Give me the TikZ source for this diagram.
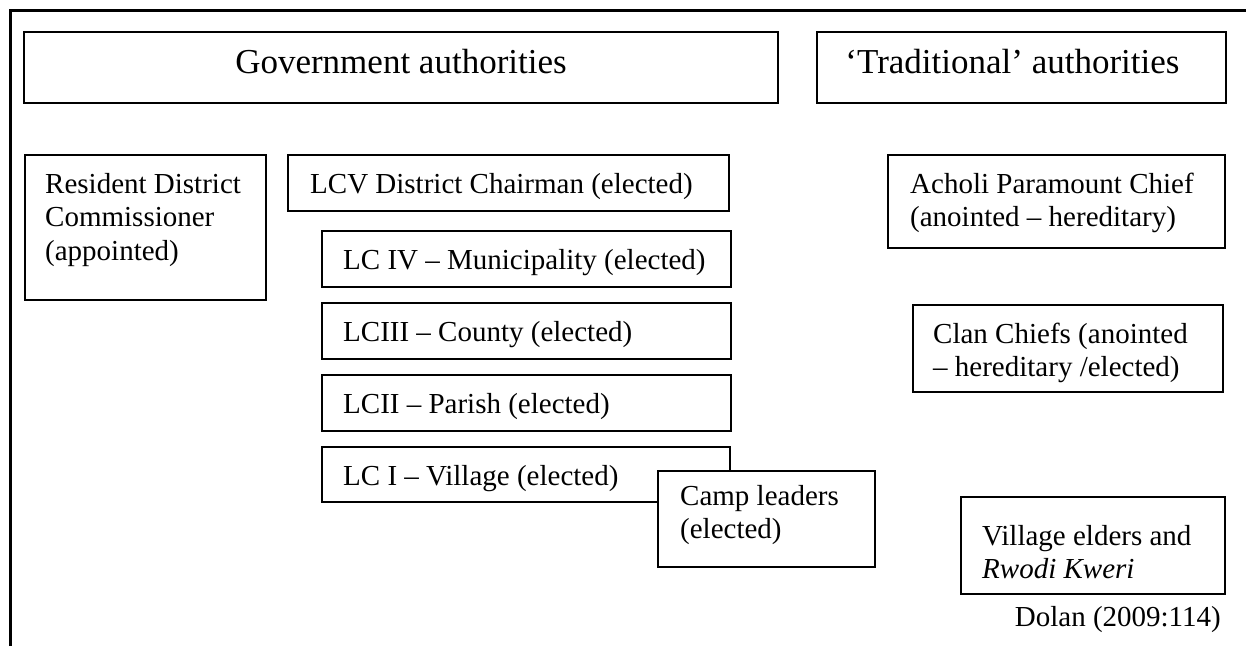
\documentclass[tikz,border=0pt]{standalone}
\usepackage{fontspec}
\setmainfont{Liberation Serif}
\usetikzlibrary{calc}
\begin{document}
\begin{tikzpicture}[x=1pt,y=-1pt,
  box/.style={draw=black, line width=1.5pt, fill=white, anchor=north west,
              inner sep=0pt, outer sep=0pt},
  lbl/.style={anchor=base west, inner sep=0pt,
              font=\fontsize{29}{33.5}\selectfont},
  head/.style={anchor=base, inner sep=0pt,
               font=\fontsize{35}{39}\selectfont},
  frameline/.style={line width=3pt}]
\useasboundingbox (0,0) rectangle (1246,646);

% outer frame: top and left edges only
\coordinate (fbl) at (10,646);
\coordinate (ftl) at (10,10);
\coordinate (ftr) at (1246,10);
\draw[frameline] (fbl) -- (ftl) -- (ftr);

% column headings
\node[box, minimum width=754, minimum height=71] (gov) at (24,32) {};
\node[head] (govt) at ($(gov.north)+(0,41)$) {Government authorities};
\node[box, minimum width=409, minimum height=71] (trad) at (817,32) {};
\node[head] (tradt) at ($(trad.north)+(-9,41)$) {‘Traditional’ authorities};

% government side
\node[box, minimum width=241, minimum height=145] (rdc) at (25,155) {};
\node[lbl] (rdct) at ($(rdc.north west)+(20,38)$)
  {\begin{tabular}[t]{@{}l@{}}Resident District\\Commissioner\\(appointed)\end{tabular}};

\node[box, minimum width=441, minimum height=56] (lcv) at (288,155) {};
\node[lbl] (lcvt) at ($(lcv.north west)+(22,38)$) {LCV District Chairman (elected)};

\node[box, minimum width=409, minimum height=56] (lciv) at (322,231) {};
\node[lbl] (lcivt) at ($(lciv.north west)+(21,38)$) {LC IV – Municipality (elected)};

\node[box, minimum width=409, minimum height=56] (lciii) at (322,303) {};
\node[lbl] (lciiit) at ($(lciii.north west)+(21,38)$) {LCIII – County (elected)};

\node[box, minimum width=409, minimum height=56] (lcii) at (322,375) {};
\node[lbl] (lciit) at ($(lcii.north west)+(21,38)$) {LCII – Parish (elected)};

\node[box, minimum width=408, minimum height=55] (lci) at (322,447) {};
\node[lbl] (lcit) at ($(lci.north west)+(21,38)$) {LC I – Village (elected)};

\node[box, minimum width=217, minimum height=96] (camp) at (658,471) {};
\node[lbl] (campt) at ($(camp.north west)+(22,34)$)
  {\begin{tabular}[t]{@{}l@{}}Camp leaders\\(elected)\end{tabular}};

% traditional side
\node[box, minimum width=337, minimum height=93] (acholi) at (888,155) {};
\node[lbl] (acholit) at ($(acholi.north west)+(22,38)$)
  {\begin{tabular}[t]{@{}l@{}}Acholi Paramount Chief\\(anointed – hereditary)\end{tabular}};

\node[box, minimum width=310, minimum height=87] (clan) at (913,305) {};
\node[lbl] (clant) at ($(clan.north west)+(20,38)$)
  {\begin{tabular}[t]{@{}l@{}}Clan Chiefs (anointed\\– hereditary /elected)\end{tabular}};

\node[box, minimum width=264, minimum height=97] (elders) at (961,497) {};
\node[lbl] (elderst) at ($(elders.north west)+(21,48)$)
  {\begin{tabular}[t]{@{}l@{}}Village elders and\\\textit{Rwodi Kweri}\end{tabular}};

% source
\node[anchor=base east, inner sep=0pt, font=\fontsize{29}{33.5}\selectfont]
  (src) at (1221,626) {Dolan (2009:114)};
\end{tikzpicture}
\end{document}
